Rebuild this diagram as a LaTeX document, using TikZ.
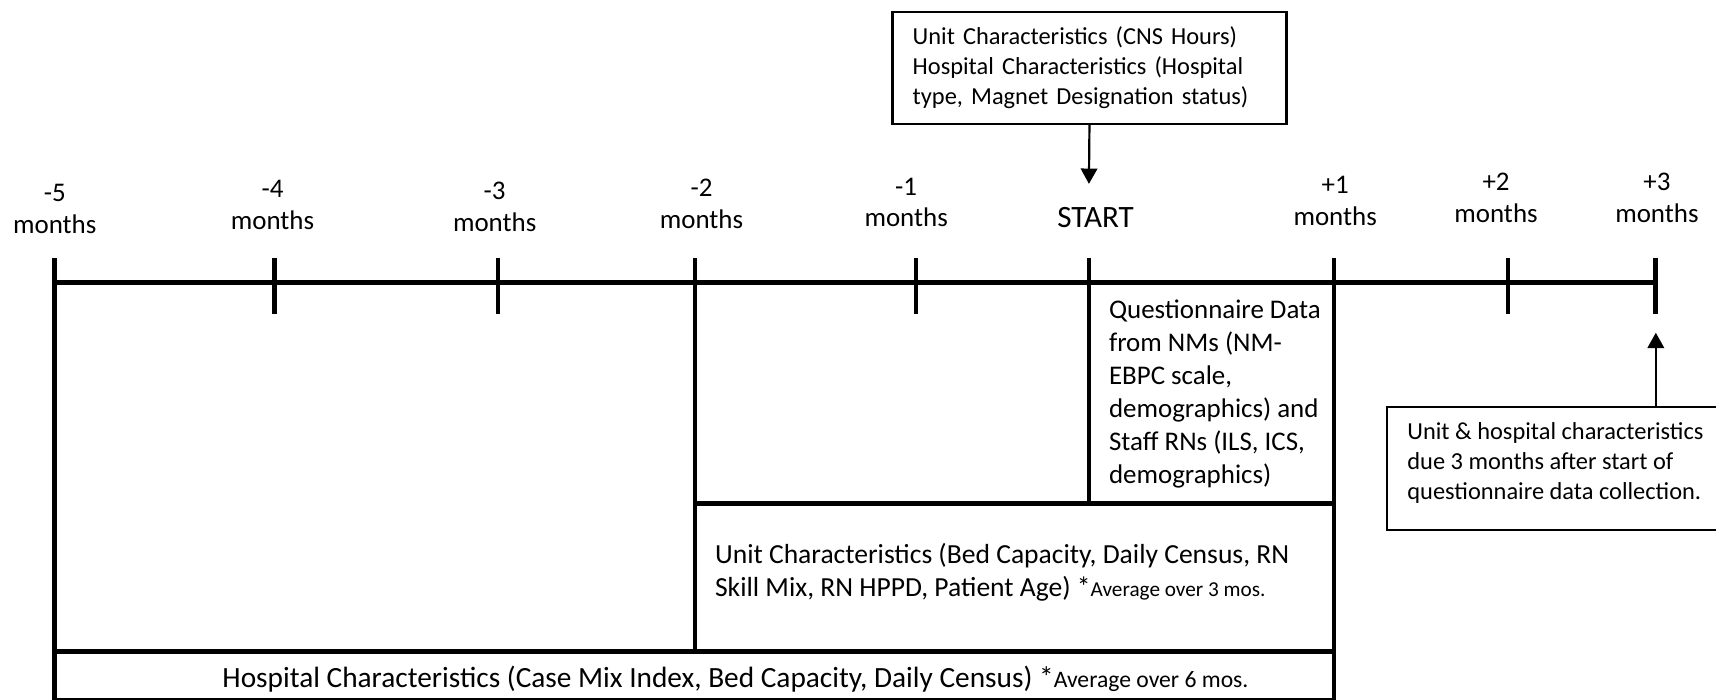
\documentclass[tikz,border=0pt]{standalone}
\usepackage{fontspec}
\setmainfont{Carlito}
\usepackage{tikz}
\usetikzlibrary{arrows.meta,positioning}
\tikzstyle{axisline} = [line width=2.2pt]
\tikzstyle{monthlbl} = [align=center, inner sep=0pt, font=\fontsize{12.3}{14.5}\selectfont]
\tikzstyle{celltext} = [align=left, inner sep=0pt, anchor=west, font=\fontsize{12.3}{15}\selectfont]
\tikzstyle{notebox} = [draw=black, line width=1pt, rectangle, align=left, inner xsep=9.25pt, font=\fontsize{11.15}{13.6}\selectfont]
\tikzstyle{notearrow} = [line width=1pt, -{Triangle[width=7.5pt,length=7pt]}]
\newcommand{\avgnote}[2][9.7]{{\fontsize{#1}{#1}\selectfont #2}}

\begin{document}
\begin{tikzpicture}[x=0.5pt,y=-0.5pt]
\useasboundingbox (0,0) rectangle (1568,639);

% months on the axis
\coordinate (m5) at (50,258);
\coordinate (m4) at (251,258);
\coordinate (m3) at (455,258);
\coordinate (m2) at (635,258);
\coordinate (m1) at (837,258);
\coordinate (m0) at (995,258);
\coordinate (p1) at (1219,258);
\coordinate (p2) at (1378,258);
\coordinate (p3) at (1513,258);
\coordinate (row1) at (0,460);
\coordinate (row2) at (0,595);
\coordinate (bot) at (0,640);

% axis, ticks and cells
\draw[axisline] (m5) -- (p3);
\foreach \t in {m4,m3,m1,p2,p3}
  \draw[axisline] ([yshift=11pt]\t) -- ([yshift=-14.5pt]\t);
\draw[axisline] ([yshift=11pt]m5) -- (m5 |- bot);
\draw[axisline] ([yshift=11pt]m2) -- (m2 |- row2);
\draw[axisline] ([yshift=11pt]m0) -- (m0 |- row1);
\draw[axisline] ([yshift=11pt]p1) -- (p1 |- bot);
\draw[axisline] (m2 |- row1) -- (p1 |- row1);
\draw[axisline] (m5 |- row2) -- (p1 |- row2);
\draw[axisline] (m5 |- bot) -- (p1 |- bot);

% month labels
\node[monthlbl] (l5) at (50,191) {-5\\months};
\node[monthlbl] (l4) at (249,187) {-4\\months};
\node[monthlbl] (l3) at (452,189) {-3\\months};
\node[monthlbl] (l2) at (641,186.5) {-2\\months};
\node[monthlbl] (l1) at (828,185) {-1\\months};
\node[monthlbl, font=\fontsize{14.2}{16}\selectfont] (lstart) at (1001,199) {START};
\node[monthlbl] (lp1) at (1220,183.5) {+1\\months};
\node[monthlbl] (lp2) at (1367,180.5) {+2\\months};
\node[monthlbl] (lp3) at (1514,180.5) {+3\\months};

% note boxes
\node[notebox, text width=161.5pt, minimum height=51pt] (cnsbox) at (995.5,62)
  {Unit Characteristics (CNS Hours)\\Hospital Characteristics (Hospital\\type, Magnet Designation status)};
\node[notebox, minimum width=160pt, minimum height=56pt, anchor=north west] (duebox) at (1266,371) {};
\node[notebox, draw=none, inner sep=0pt, anchor=west] (duetext) at ([xshift=9.5pt,yshift=2.5pt]duebox.west)
  {Unit \& hospital characteristics\\due 3 months after start of\\questionnaire data collection.};

\coordinate (starttip) at (995,168);
\coordinate (duetip) at (1513,304);
\draw[notearrow] (cnsbox.south) -- (starttip);
\draw[notearrow] (duebox.north -| duetip) -- (duetip);

% cell texts
\node[celltext] (qdata) at (1013,360) {Questionnaire Data\\from NMs (NM-\\EBPC scale,\\demographics) and\\Staff RNs (ILS, ICS,\\demographics)};
\node[celltext, font=\fontsize{12.6}{15}\selectfont] (unitdata) at (653,523) {Unit Characteristics (Bed Capacity, Daily Census, RN\\Skill Mix, RN HPPD, Patient Age) *\avgnote{Average over 3 mos.}};
\node[celltext, anchor=center, font=\fontsize{13.4}{15}\selectfont] (hospdata) at (672,621) {Hospital Characteristics (Case Mix Index, Bed Capacity, Daily Census) *\avgnote[10.8]{Average over 6 mos.}};
\end{tikzpicture}
\end{document}
